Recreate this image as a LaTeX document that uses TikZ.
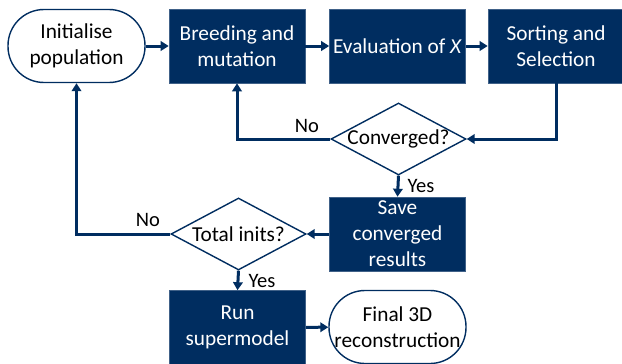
\documentclass[tikz,border=0pt]{standalone}
\usepackage{fontspec}
\setmainfont{Carlito}
\usetikzlibrary{arrows.meta,shapes.geometric}
\definecolor{navy}{RGB}{0,45,96}
\begin{document}
\begin{tikzpicture}[x=1pt,y=-1pt,
  every node/.style={font=\fontsize{21.3}{26}\selectfont, align=center, inner sep=0pt},
  proc/.style={rectangle, fill=navy, draw=navy!75!white, line width=0.6pt, text=white, minimum width=136pt, minimum height=74pt},
  term/.style={rectangle, rounded corners=36pt, draw=navy, line width=1.4pt, fill=white, minimum width=137pt, minimum height=73pt},
  dec/.style={diamond, draw=navy, line width=1.4pt, fill=white, minimum width=135pt, minimum height=72pt},
  flow/.style={draw=navy, line width=3pt, -{Triangle[length=8pt,width=9.5pt]}},
  lab/.style={font=\fontsize{20.5}{24}\selectfont}
]
\useasboundingbox (0,0) rectangle (622,364);
\node[term] (init) at (76.5,46) {Initialise\\population};
\node[proc] (breed) at (237,46) {Breeding and\\mutation};
\node[proc] (eval) at (397.5,46) {Evaluation of \textit{X}};
\node[proc] (sort) at (556,46) {Sorting and\\Selection};
\node[dec] (conv) at (398.5,139) {};
\node at (conv) {\makebox[0pt]{Converged?}};
\node[proc] (save) at (397.5,234) {Save\\converged\\results};
\node[dec] (tot) at (238.5,234) {};
\node at (tot) {\makebox[0pt]{Total inits?}};
\node[proc] (run) at (237.5,327.5) {Run\\supermodel};
\node[term] (fin) at (397.5,327) {Final 3D\\reconstruction};

\draw[flow] (init) -- (breed);
\draw[flow] (breed) -- (eval);
\draw[flow] (eval) -- (sort);
\draw[flow] (sort.south) |- (conv.east);
\draw[flow] (conv.west) -| (breed.south);
\draw[flow] (conv.south) -- (save.north);
\draw[flow] (save.west) -- (tot.east);
\draw[flow] (tot.west) -| (init.south);
\draw[flow] (tot.south) -- (run.north);
\draw[flow] (run) -- (fin);

\node[lab] (no1) at (307,126) {No};
\node[lab] (yes1) at (421,186) {Yes};
\node[lab] (no2) at (148,220) {No};
\node[lab] (yes2) at (262,281) {Yes};
\end{tikzpicture}
\end{document}
